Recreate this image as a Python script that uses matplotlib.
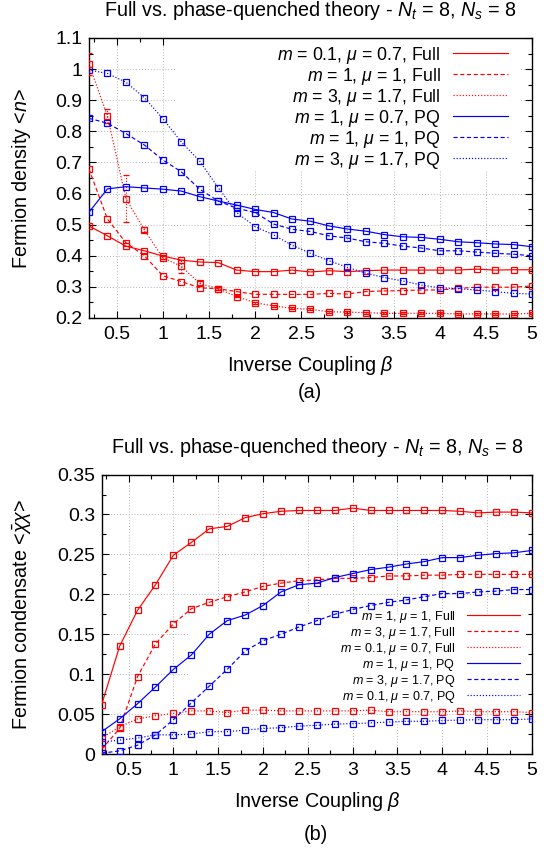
import matplotlib
matplotlib.use("Agg")
import matplotlib.pyplot as plt
from matplotlib.lines import Line2D
from matplotlib.patches import Rectangle
from matplotlib.ticker import MultipleLocator, FuncFormatter

plt.rcParams["font.family"] = ["Liberation Sans", "DejaVu Sans"]
plt.rcParams["mathtext.fontset"] = "custom"
plt.rcParams["mathtext.rm"] = "Liberation Sans"
plt.rcParams["mathtext.it"] = "Liberation Sans:italic"
plt.rcParams["mathtext.bf"] = "Liberation Sans:bold"

# ---- data -------------------------------------------------------------
beta = [0.2, 0.4, 0.6, 0.8, 1.0, 1.2, 1.4, 1.6, 1.8, 2.0, 2.2, 2.4, 2.6,
        2.8, 3.0, 3.2, 3.4, 3.6, 3.8, 4.0, 4.2, 4.4, 4.6, 4.8, 5.0]

# (a) fermion density <n>
dens_full_m01_mu07 = [0.496, 0.464, 0.431, 0.416, 0.399, 0.386, 0.380, 0.378, 0.354,
                      0.349, 0.349, 0.354, 0.348, 0.352, 0.349, 0.352, 0.354, 0.354,
                      0.354, 0.354, 0.354, 0.357, 0.354, 0.355, 0.355]
dens_full_m1_mu1 = [0.679, 0.518, 0.442, 0.400, 0.336, 0.317, 0.297, 0.294, 0.285,
                    0.276, 0.276, 0.276, 0.276, 0.279, 0.277, 0.285, 0.287, 0.288,
                    0.290, 0.290, 0.295, 0.299, 0.299, 0.299, 0.303]
dens_full_m3_mu17 = [1.016, 0.849, 0.584, 0.483, 0.394, 0.366, 0.311, 0.294, 0.269,
                     0.249, 0.239, 0.231, 0.228, 0.220, 0.219, 0.217, 0.215, 0.215,
                     0.215, 0.215, 0.213, 0.213, 0.213, 0.213, 0.215]
dens_full_m3_mu17_err = [0.035, 0.022, 0.075, 0.008, 0.005, 0.02, 0.008, 0.004, 0.003,
                         0.003, 0.003, 0.003, 0.003, 0.003, 0.003, 0.003, 0.003, 0.003,
                         0.003, 0.003, 0.003, 0.003, 0.003, 0.003, 0.003]
dens_pq_m1_mu07 = [0.540, 0.615, 0.622, 0.618, 0.614, 0.608, 0.590, 0.576, 0.563,
                   0.549, 0.539, 0.518, 0.511, 0.496, 0.486, 0.479, 0.468, 0.461,
                   0.459, 0.453, 0.445, 0.442, 0.438, 0.436, 0.429]
dens_pq_m1_mu1 = [0.842, 0.826, 0.793, 0.756, 0.708, 0.670, 0.614, 0.576, 0.553,
                  0.539, 0.502, 0.485, 0.478, 0.464, 0.457, 0.445, 0.440, 0.431,
                  0.425, 0.416, 0.416, 0.412, 0.408, 0.405, 0.400]
dens_pq_m3_mu17 = [0.997, 0.986, 0.958, 0.908, 0.841, 0.766, 0.704, 0.619, 0.539,
                   0.494, 0.467, 0.434, 0.408, 0.384, 0.363, 0.344, 0.330, 0.319,
                   0.306, 0.297, 0.294, 0.290, 0.285, 0.279, 0.277]

# (b) fermion condensate <chibar chi>
cond_full_m1_mu1 = [0.062, 0.135, 0.180, 0.212, 0.249, 0.265, 0.282, 0.285, 0.296,
                    0.301, 0.304, 0.305, 0.305, 0.305, 0.308, 0.305, 0.305, 0.305,
                    0.305, 0.305, 0.304, 0.302, 0.303, 0.303, 0.302]
cond_full_m3_mu17 = [0.006, 0.032, 0.097, 0.138, 0.163, 0.182, 0.190, 0.197, 0.203,
                     0.210, 0.214, 0.217, 0.218, 0.220, 0.220, 0.221, 0.223, 0.223,
                     0.224, 0.224, 0.225, 0.225, 0.225, 0.225, 0.225]
cond_full_m01_mu07 = [0.020, 0.034, 0.044, 0.048, 0.051, 0.054, 0.054, 0.052, 0.055,
                      0.055, 0.054, 0.054, 0.054, 0.054, 0.054, 0.055, 0.053, 0.053,
                      0.053, 0.053, 0.054, 0.053, 0.053, 0.053, 0.052]
cond_pq_m1_mu1 = [0.028, 0.044, 0.063, 0.084, 0.106, 0.124, 0.150, 0.167, 0.174,
                  0.186, 0.203, 0.212, 0.214, 0.221, 0.226, 0.231, 0.234, 0.238,
                  0.241, 0.246, 0.246, 0.249, 0.251, 0.252, 0.255]
cond_pq_m3_mu17 = [0.001, 0.004, 0.011, 0.024, 0.043, 0.064, 0.085, 0.106, 0.129,
                   0.142, 0.150, 0.159, 0.167, 0.175, 0.181, 0.186, 0.190, 0.193,
                   0.197, 0.201, 0.201, 0.203, 0.204, 0.206, 0.206]
cond_pq_m01_mu07 = [0.015, 0.0175, 0.020, 0.024, 0.024, 0.025, 0.028, 0.028, 0.030,
                    0.032, 0.033, 0.035, 0.036, 0.0375, 0.038, 0.039, 0.040, 0.041,
                    0.041, 0.042, 0.0425, 0.043, 0.043, 0.043, 0.044]

labels_a = [r"$m$ = 0.1, $\mu$ = 0.7, Full", r"$m$ = 1, $\mu$ = 1, Full",
            r"$m$ = 3, $\mu$ = 1.7, Full", r"$m$ = 1, $\mu$ = 0.7, PQ",
            r"$m$ = 1, $\mu$ = 1, PQ", r"$m$ = 3, $\mu$ = 1.7, PQ"]
labels_b = [r"$m$ = 1, $\mu$ = 1, Full", r"$m$ = 3, $\mu$ = 1.7, Full",
            r"$m$ = 0.1, $\mu$ = 0.7, Full", r"$m$ = 1, $\mu$ = 1, PQ",
            r"$m$ = 3, $\mu$ = 1.7, PQ", r"$m$ = 0.1, $\mu$ = 0.7, PQ"]

title = r"Full vs. phase-quenched theory - $N_t$ = 8, $N_s$ = 8"
RED, BLUE = "#ff0000", "#0000ff"
LW = 0.85
STYLES = ["-", (0, (3.5, 2.2)), (0, (1.0, 1.6))]
FS_TEXT = 14.2
FS_TICK = 14.0

# ---- figure -----------------------------------------------------------
fig = plt.figure(figsize=(5.52, 8.5), dpi=100)
ax1 = fig.add_axes([0.1612, 0.6259, 0.8025, 0.3294])
ax2 = fig.add_axes([0.1842, 0.1129, 0.7795, 0.3288])

fmt = FuncFormatter(lambda v, p: "%g" % round(v, 6))


def style_axes(ax, ylim, ymajor, yminor):
    ax.set_xlim(0.2, 5)
    ax.set_ylim(*ylim)
    ax.xaxis.set_major_locator(MultipleLocator(0.5))
    ax.xaxis.set_minor_locator(MultipleLocator(0.25))
    ax.yaxis.set_major_locator(MultipleLocator(ymajor))
    ax.yaxis.set_minor_locator(MultipleLocator(yminor))
    ax.xaxis.set_major_formatter(fmt)
    ax.yaxis.set_major_formatter(fmt)
    ax.tick_params(which="both", direction="in", top=True, right=True, width=0.8)
    ax.tick_params(which="major", length=5, labelsize=FS_TICK)
    ax.tick_params(which="minor", length=3)
    ax.tick_params(axis="x", pad=6)
    ax.tick_params(axis="y", pad=4.5)
    ax.grid(True, which="major", color="#b4b4b4", linestyle=(0, (1, 2)), linewidth=0.7)
    ax.set_axisbelow(True)
    for s in ax.spines.values():
        s.set_linewidth(1.0)
    ax.set_xlabel(r"Inverse Coupling $\beta$", fontsize=FS_TEXT, va="top")


def draw(ax, y, color, ls, yerr=None):
    kw = dict(color=color, linestyle=ls, linewidth=LW, marker="s", markersize=4.6,
              markerfacecolor="none", markeredgewidth=0.9, zorder=3)
    if yerr is None:
        ax.plot(beta, y, **kw)
    else:
        eb = ax.errorbar(beta, y, yerr=yerr, capsize=2, elinewidth=0.8,
                         capthick=0.8, ecolor=color, **kw)
        for c in eb[2]:
            c.set_linestyle((0, (1.0, 1.6)))


def legend(ax, labels, size, anchor, loc, hlen, pad):
    handles = [Line2D([], [], color=c, linestyle=s, linewidth=LW)
               for c in (RED, BLUE) for s in STYLES]
    leg = ax.legend(handles, labels, loc=loc, bbox_to_anchor=anchor, frameon=False,
                    fontsize=size, markerfirst=False, handlelength=hlen,
                    handletextpad=pad, labelspacing=0.0, borderpad=0,
                    borderaxespad=0)
    leg.set_zorder(4)
    return leg


# (a) fermion density
style_axes(ax1, (0.2, 1.1), 0.1, 0.05)
ax1.add_patch(Rectangle((0.199, 0.525), 0.776, 0.475, transform=ax1.transAxes,
                        facecolor="white", edgecolor="none", zorder=1))
draw(ax1, dens_full_m01_mu07, RED, STYLES[0])
draw(ax1, dens_full_m1_mu1, RED, STYLES[1])
draw(ax1, dens_full_m3_mu17, RED, STYLES[2], yerr=dens_full_m3_mu17_err)
draw(ax1, dens_pq_m1_mu07, BLUE, STYLES[0])
draw(ax1, dens_pq_m1_mu1, BLUE, STYLES[1])
draw(ax1, dens_pq_m3_mu17, BLUE, STYLES[2])
legend(ax1, labels_a, 12.8, (0.946, 0.976), "upper right", 3.1, 0.7)
ax1.set_ylabel(r"Fermion density <$n$>", fontsize=FS_TEXT)
ax1.yaxis.set_label_coords(-0.127, 0.5)
ax1.xaxis.set_label_coords(0.5, -0.127)
ax1.text(0.5, 1.077, title, transform=ax1.transAxes, ha="center", va="baseline",
         fontsize=FS_TEXT)

# (b) fermion condensate
style_axes(ax2, (0, 0.35), 0.05, 0.025)
ax2.add_patch(Rectangle((0.2006, 0.165), 0.785, 0.335, transform=ax2.transAxes,
                        facecolor="white", edgecolor="none", zorder=1))
draw(ax2, cond_full_m1_mu1, RED, STYLES[0])
draw(ax2, cond_full_m3_mu17, RED, STYLES[1])
draw(ax2, cond_full_m01_mu07, RED, STYLES[2])
draw(ax2, cond_pq_m1_mu1, BLUE, STYLES[0])
draw(ax2, cond_pq_m3_mu17, BLUE, STYLES[1])
draw(ax2, cond_pq_m01_mu07, BLUE, STYLES[2])
legend(ax2, labels_b, 9.0, (0.972, 0.176), "lower right", 4.25, 0.9)
ax2.set_ylabel(r"Fermion condensate <$\bar{\chi}\chi$>", fontsize=FS_TEXT)
ax2.yaxis.set_label_coords(-0.16, 0.5)
ax2.xaxis.set_label_coords(0.5, -0.127)
ax2.text(0.5, 1.077, title, transform=ax2.transAxes, ha="center", va="baseline",
         fontsize=FS_TEXT)

fig.text(0.5616, 1 - 392 / 850, "(a)", ha="center", va="center", fontsize=FS_TEXT)
fig.text(0.5725, 1 - 834 / 850, "(b)", ha="center", va="center", fontsize=FS_TEXT)

fig.savefig("out.png", dpi=100, facecolor="white")
